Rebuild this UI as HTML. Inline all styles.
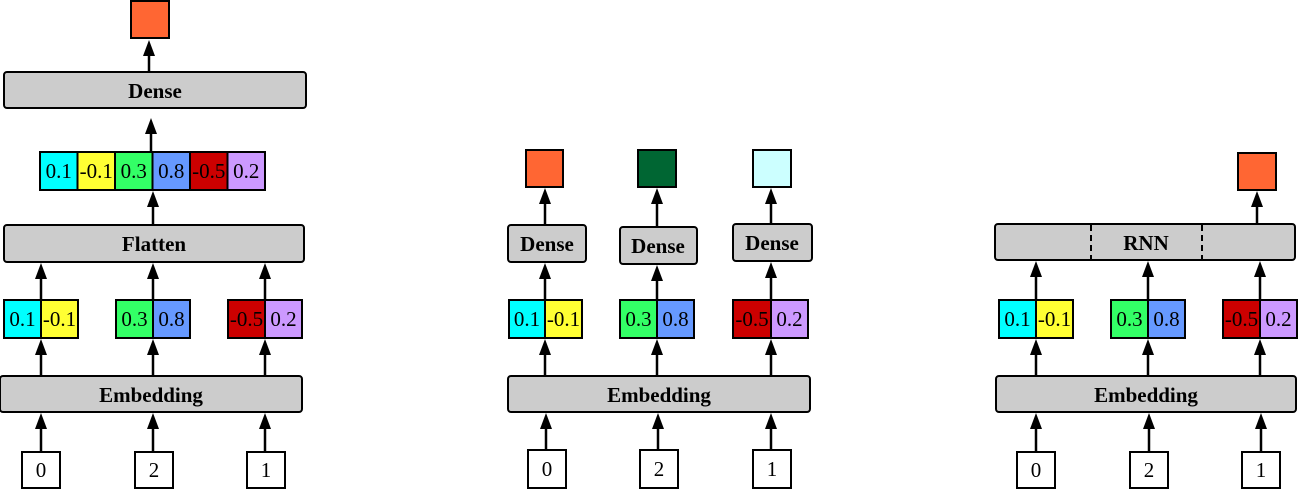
<!DOCTYPE html>
<html><head><meta charset="utf-8"><style>
html,body{margin:0;padding:0;background:#fff;}
svg{display:block}
</style></head><body>
<svg width="1301" height="491" viewBox="0 0 1301 491" xmlns="http://www.w3.org/2000/svg">
<g stroke="#000" stroke-width="2.5" fill="none">
<line x1="149" y1="72" x2="149" y2="52"/>
<line x1="151" y1="152" x2="151" y2="130"/>
<line x1="153" y1="225" x2="153" y2="203"/>
<line x1="41" y1="300" x2="41" y2="275"/>
<line x1="153" y1="300" x2="153" y2="275"/>
<line x1="265" y1="300" x2="265" y2="275"/>
<line x1="41" y1="376" x2="41" y2="351"/>
<line x1="153" y1="376" x2="153" y2="351"/>
<line x1="265" y1="376" x2="265" y2="351"/>
<line x1="41" y1="452" x2="41" y2="425"/>
<line x1="153" y1="452" x2="153" y2="425"/>
<line x1="265" y1="452" x2="265" y2="425"/>
<line x1="545" y1="225" x2="545" y2="200"/>
<line x1="657" y1="227" x2="657" y2="200"/>
<line x1="771" y1="224" x2="771" y2="200"/>
<line x1="545" y1="300" x2="545" y2="275"/>
<line x1="657" y1="300" x2="657" y2="277"/>
<line x1="771" y1="300" x2="771" y2="274"/>
<line x1="545" y1="376" x2="545" y2="351"/>
<line x1="657" y1="376" x2="657" y2="351"/>
<line x1="771" y1="376" x2="771" y2="351"/>
<line x1="546" y1="450" x2="546" y2="425"/>
<line x1="658" y1="450" x2="658" y2="425"/>
<line x1="771" y1="450" x2="771" y2="425"/>
<line x1="1257" y1="224" x2="1257" y2="203"/>
<line x1="1036" y1="300" x2="1036" y2="273"/>
<line x1="1148" y1="300" x2="1148" y2="273"/>
<line x1="1260" y1="300" x2="1260" y2="273"/>
<line x1="1036" y1="376" x2="1036" y2="351"/>
<line x1="1148" y1="376" x2="1148" y2="351"/>
<line x1="1260" y1="376" x2="1260" y2="351"/>
<line x1="1036" y1="452" x2="1036" y2="425"/>
<line x1="1149" y1="452" x2="1149" y2="425"/>
<line x1="1261" y1="452" x2="1261" y2="425"/>
</g>
<g fill="#000">
<polygon points="143,56 149,40 155,56"/>
<polygon points="145,134 151,118 157,134"/>
<polygon points="147,207 153,191 159,207"/>
<polygon points="35,279 41,263 47,279"/>
<polygon points="147,279 153,263 159,279"/>
<polygon points="259,279 265,263 271,279"/>
<polygon points="35,355 41,339 47,355"/>
<polygon points="147,355 153,339 159,355"/>
<polygon points="259,355 265,339 271,355"/>
<polygon points="35,429 41,413 47,429"/>
<polygon points="147,429 153,413 159,429"/>
<polygon points="259,429 265,413 271,429"/>
<polygon points="539,204 545,188 551,204"/>
<polygon points="651,204 657,188 663,204"/>
<polygon points="765,204 771,188 777,204"/>
<polygon points="539,279 545,263 551,279"/>
<polygon points="651,281 657,265 663,281"/>
<polygon points="765,278 771,262 777,278"/>
<polygon points="539,355 545,339 551,355"/>
<polygon points="651,355 657,339 663,355"/>
<polygon points="765,355 771,339 777,355"/>
<polygon points="540,429 546,413 552,429"/>
<polygon points="652,429 658,413 664,429"/>
<polygon points="765,429 771,413 777,429"/>
<polygon points="1251,207 1257,191 1263,207"/>
<polygon points="1030,277 1036,261 1042,277"/>
<polygon points="1142,277 1148,261 1154,277"/>
<polygon points="1254,277 1260,261 1266,277"/>
<polygon points="1030,355 1036,339 1042,355"/>
<polygon points="1142,355 1148,339 1154,355"/>
<polygon points="1254,355 1260,339 1266,355"/>
<polygon points="1030,429 1036,413 1042,429"/>
<polygon points="1143,429 1149,413 1155,429"/>
<polygon points="1255,429 1261,413 1267,429"/>
</g>
<g stroke="#000" stroke-width="2">
<rect x="4" y="72" width="302" height="36" rx="3" fill="#cccccc"/>
<rect x="4" y="225" width="300" height="37" rx="3" fill="#cccccc"/>
<rect x="0" y="376" width="302" height="36" rx="3" fill="#cccccc"/>
<rect x="508" y="225" width="78" height="37" rx="3" fill="#cccccc"/>
<rect x="620" y="227" width="77" height="37" rx="3" fill="#cccccc"/>
<rect x="733" y="224" width="79" height="37" rx="3" fill="#cccccc"/>
<rect x="508" y="376" width="302" height="36" rx="3" fill="#cccccc"/>
<rect x="995" y="224" width="300" height="36" rx="3" fill="#cccccc"/>
<rect x="996" y="376" width="300" height="36" rx="3" fill="#cccccc"/>
<rect x="131" y="1" width="38" height="37" fill="#ff6633"/>
<rect x="526" y="150" width="37" height="37" fill="#ff6633"/>
<rect x="638" y="150" width="38" height="37" fill="#006633"/>
<rect x="753" y="150" width="38" height="37" fill="#ccffff"/>
<rect x="1238" y="153" width="38" height="37" fill="#ff6633"/>
<rect x="40" y="152" width="37.5" height="38" fill="#00ffff"/>
<rect x="77.5" y="152" width="37.5" height="38" fill="#ffff33"/>
<rect x="115" y="152" width="37.5" height="38" fill="#33ff66"/>
<rect x="152.5" y="152" width="37.5" height="38" fill="#6699ff"/>
<rect x="190" y="152" width="37.5" height="38" fill="#cc0000"/>
<rect x="227.5" y="152" width="37.5" height="38" fill="#cc99ff"/>
<rect x="4" y="300" width="37" height="38" fill="#00ffff"/><rect x="41" y="300" width="37" height="38" fill="#ffff33"/>
<rect x="116" y="300" width="37" height="38" fill="#33ff66"/><rect x="153" y="300" width="37" height="38" fill="#6699ff"/>
<rect x="228" y="300" width="37" height="38" fill="#cc0000"/><rect x="265" y="300" width="37" height="38" fill="#cc99ff"/>
<rect x="509" y="300" width="36" height="38" fill="#00ffff"/><rect x="545" y="300" width="37" height="38" fill="#ffff33"/>
<rect x="620" y="300" width="37" height="38" fill="#33ff66"/><rect x="657" y="300" width="37" height="38" fill="#6699ff"/>
<rect x="733" y="300" width="38" height="38" fill="#cc0000"/><rect x="771" y="300" width="37" height="38" fill="#cc99ff"/>
<rect x="999" y="300" width="37" height="38" fill="#00ffff"/><rect x="1036" y="300" width="37" height="38" fill="#ffff33"/>
<rect x="1111" y="300" width="37" height="38" fill="#33ff66"/><rect x="1148" y="300" width="37" height="38" fill="#6699ff"/>
<rect x="1223" y="300" width="37" height="38" fill="#cc0000"/><rect x="1260" y="300" width="37" height="38" fill="#cc99ff"/>
<rect x="22" y="452" width="38" height="36" fill="#fff"/>
<rect x="135" y="452" width="38" height="36" fill="#fff"/>
<rect x="247" y="452" width="38" height="36" fill="#fff"/>
<rect x="528" y="450" width="38" height="38" fill="#fff"/>
<rect x="640" y="450" width="38" height="38" fill="#fff"/>
<rect x="753" y="450" width="38" height="38" fill="#fff"/>
<rect x="1017" y="452" width="38" height="36" fill="#fff"/>
<rect x="1130" y="452" width="38" height="36" fill="#fff"/>
<rect x="1242" y="452" width="38" height="36" fill="#fff"/>
</g>
<g stroke="#000" stroke-width="2" stroke-dasharray="6,4">
<line x1="1091" y1="225" x2="1091" y2="259"/>
<line x1="1202" y1="225" x2="1202" y2="259"/>
</g>
<g font-family="Liberation Serif, serif" font-weight="bold" font-size="21" text-anchor="middle" fill="#000">
<text x="155" y="98">Dense</text>
<text x="154" y="251">Flatten</text>
<text x="151" y="402">Embedding</text>
<text x="547" y="251">Dense</text>
<text x="658" y="253">Dense</text>
<text x="772" y="250">Dense</text>
<text x="659" y="402">Embedding</text>
<text x="1146" y="250">RNN</text>
<text x="1146" y="402">Embedding</text>
</g>
<g font-family="Liberation Serif, serif" font-size="21" text-anchor="middle" fill="#000">
<text x="58.75" y="178">0.1</text><text x="96.25" y="178">-0.1</text><text x="133.75" y="178">0.3</text>
<text x="171.25" y="178">0.8</text><text x="208.75" y="178">-0.5</text><text x="246.25" y="178">0.2</text>
<text x="22.5" y="326">0.1</text><text x="59.5" y="326">-0.1</text>
<text x="134.5" y="326">0.3</text><text x="171.5" y="326">0.8</text>
<text x="246.5" y="326">-0.5</text><text x="283.5" y="326">0.2</text>
<text x="527" y="326">0.1</text><text x="563.5" y="326">-0.1</text>
<text x="638.5" y="326">0.3</text><text x="675.5" y="326">0.8</text>
<text x="752" y="326">-0.5</text><text x="789.5" y="326">0.2</text>
<text x="1017.5" y="326">0.1</text><text x="1054.5" y="326">-0.1</text>
<text x="1129.5" y="326">0.3</text><text x="1166.5" y="326">0.8</text>
<text x="1241.5" y="326">-0.5</text><text x="1278.5" y="326">0.2</text>
<text x="41" y="477">0</text><text x="154" y="477">2</text><text x="266" y="477">1</text>
<text x="547" y="476">0</text><text x="659" y="476">2</text><text x="772" y="476">1</text>
<text x="1036" y="477">0</text><text x="1149" y="477">2</text><text x="1261" y="477">1</text>
</g>
</svg>
</body></html>
